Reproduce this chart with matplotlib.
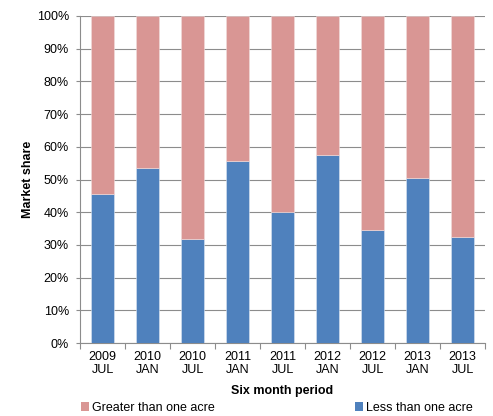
import matplotlib
matplotlib.use('Agg')
import matplotlib.pyplot as plt
import numpy as np
from matplotlib.patches import Patch

plt.rcParams['font.family'] = ['Liberation Sans', 'DejaVu Sans']

periods = ['2009\nJUL', '2010\nJAN', '2010\nJUL', '2011\nJAN', '2011\nJUL',
           '2012\nJAN', '2012\nJUL', '2013\nJAN', '2013\nJUL']
less_than_one = [45.5, 53.6, 31.8, 55.7, 40.2, 57.5, 34.7, 50.5, 32.5]
greater_than_one = [100 - v for v in less_than_one]

blue = '#4F81BD'
pink = '#D99694'
grey = '#8C8C8C'

fig = plt.figure(figsize=(4.93, 4.16), dpi=100)
ax = fig.add_axes([80 / 493, 1 - 343 / 416, 405 / 493, 327 / 416])

x = np.arange(len(periods))
ax.bar(x, less_than_one, width=0.5, color=blue, edgecolor='#DCE6F2', linewidth=0.4, zorder=3)
ax.bar(x, greater_than_one, width=0.5, bottom=less_than_one, color=pink,
       edgecolor='#F2DCDB', linewidth=0.4, zorder=3)

ax.set_xlim(-0.5, len(periods) - 0.5)
ax.set_ylim(0, 100)
ax.set_yticks(np.arange(0, 101, 10))
ax.set_yticklabels([f'{v}%' for v in range(0, 101, 10)], fontsize=9)
ax.set_xticks(x)
ax.set_xticklabels(periods, fontsize=9, linespacing=1.05)
ax.tick_params(axis='x', length=0, pad=6)
ax.set_xticks(np.arange(-0.5, len(periods)), minor=True)
ax.tick_params(axis='x', which='minor', length=4, color=grey, width=0.8)
ax.tick_params(axis='y', length=3, color=grey, width=0.8, pad=5)

ax.yaxis.grid(True, color=grey, linewidth=0.8, zorder=0)
ax.set_axisbelow(True)
for s in ['top', 'right']:
    ax.spines[s].set_visible(False)
for s in ['left', 'bottom']:
    ax.spines[s].set_color(grey)
    ax.spines[s].set_linewidth(0.8)

ax.set_ylabel('Market share', fontsize=9, fontweight='bold')
ax.yaxis.set_label_coords(-(80 - 34) / 405, 0.5)
ax.set_xlabel('Six month period', fontsize=9, fontweight='bold')
ax.xaxis.set_label_coords(0.5, -(385 - 343) / 327)

h1 = [Patch(facecolor=pink, edgecolor='none', label='Greater than one acre')]
h2 = [Patch(facecolor=blue, edgecolor='none', label='Less than one acre')]
kw = dict(frameon=False, fontsize=9, handlelength=0.65, handleheight=0.65,
          handletextpad=0.25, borderpad=0, borderaxespad=0)
fig.legend(handles=h1, loc='center left', bbox_to_anchor=(81 / 493, 1 - 408 / 416), **kw)
fig.legend(handles=h2, loc='center left', bbox_to_anchor=(355 / 493, 1 - 408 / 416), **kw)

fig.savefig('out.png', dpi=100)
